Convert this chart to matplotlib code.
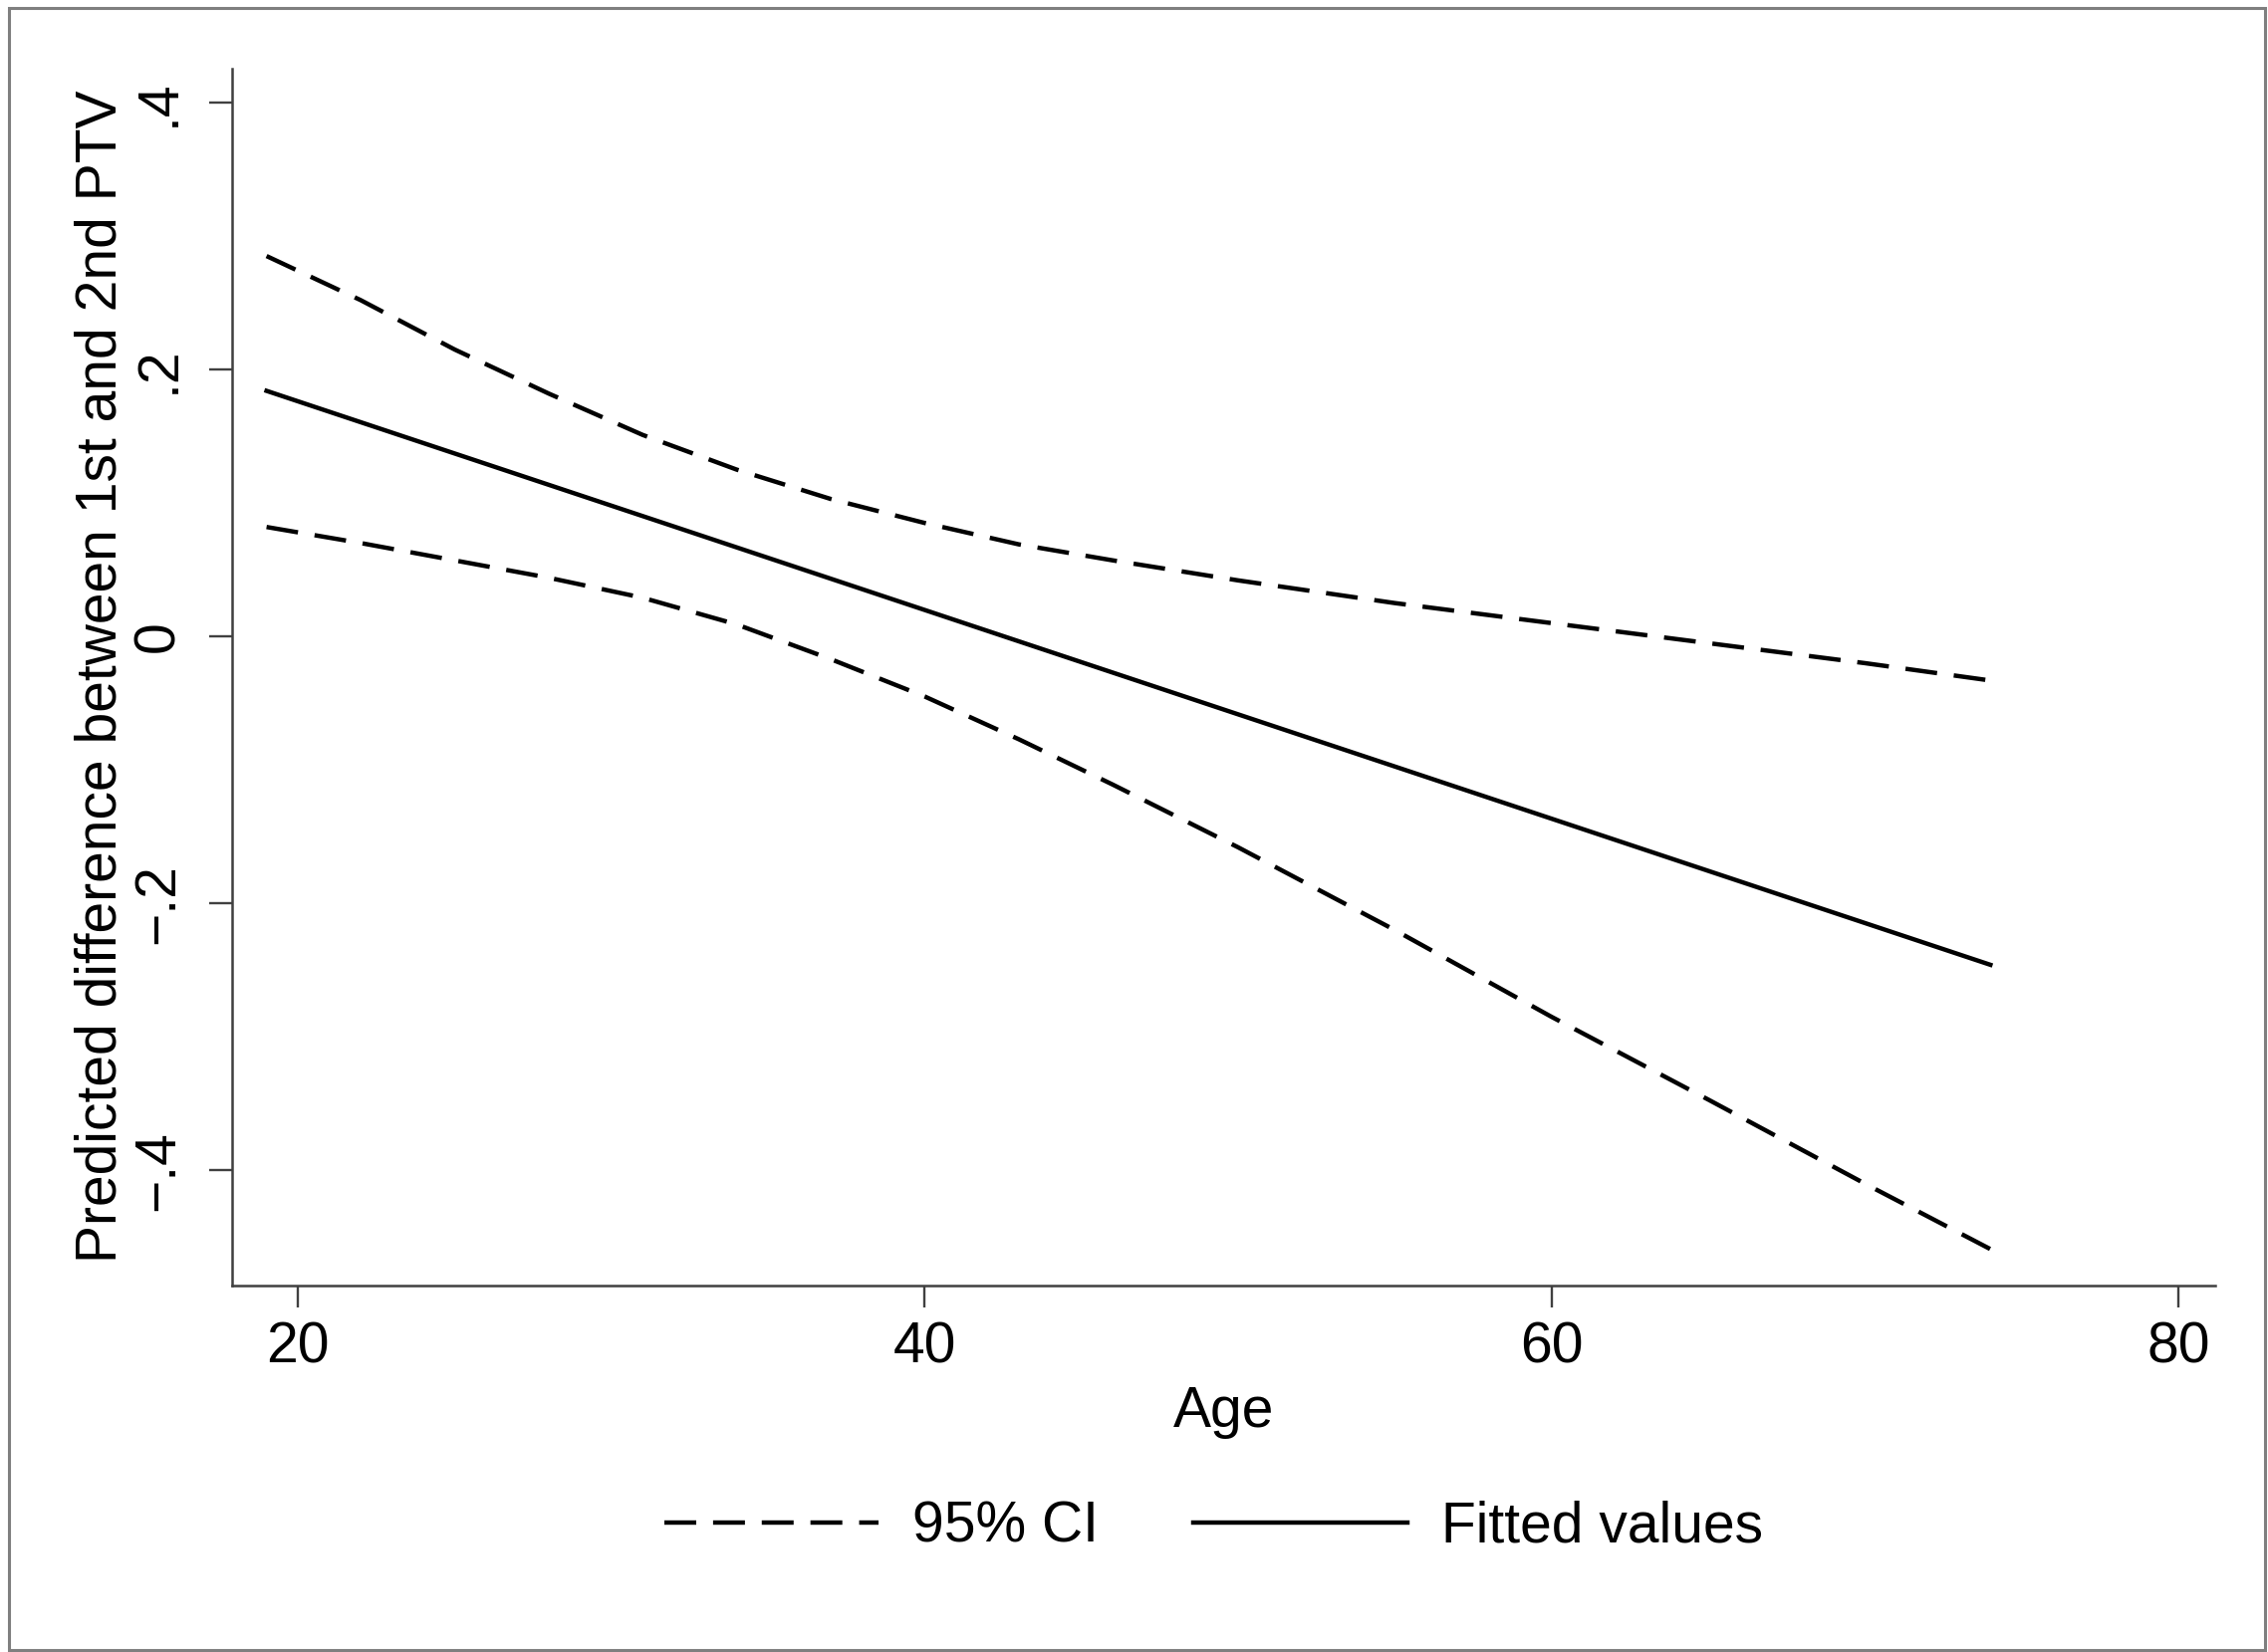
import matplotlib
matplotlib.use("Agg")
import matplotlib.pyplot as plt
from matplotlib.patches import Rectangle

plt.rcParams['font.family'] = ['Liberation Sans', 'DejaVu Sans']

# ---- data ----
ci_age = [19, 22, 25, 28, 31, 34, 37, 40, 43, 46, 50, 55, 60, 65, 70, 74]
ci_upper = [0.285, 0.252, 0.215, 0.182, 0.151, 0.125, 0.103, 0.085, 0.069, 0.057,
            0.042, 0.025, 0.010, -0.005, -0.020, -0.033]
ci_lower = [0.082, 0.070, 0.057, 0.044, 0.029, 0.009, -0.017, -0.045, -0.077, -0.111,
            -0.158, -0.220, -0.285, -0.347, -0.410, -0.459]
fit_age = [19, 74]
fit_vals = [0.184, -0.246]

xticks = [20, 40, 60, 80]
xticklabels = ["20", "40", "60", "80"]
yticks = [-0.4, -0.2, 0, 0.2, 0.4]
yticklabels = ["\u2212.4", "\u2212.2", "0", ".2", ".4"]

W, H = 2277, 1659
fig = plt.figure(figsize=(W / 100, H / 100), dpi=100)
fig.patch.set_facecolor('white')

left, right, top, bottom = 233, 2223.6, 68.8, 1290.6
ax = fig.add_axes([left / W, 1 - bottom / H, (right - left) / W, (bottom - top) / H])

FS = 41
lw = 3.2
dash = (7.2, 3.8)

l1, = ax.plot(ci_age, ci_upper, color='black', lw=lw, label='95% CI')
l1.set_dashes(dash)
l2, = ax.plot(ci_age, ci_lower, color='black', lw=lw)
l2.set_dashes(dash)
ax.plot(fit_age, fit_vals, color='black', lw=lw, label='Fitted values')

ax.set_xlim(17.9, 81.16)
ax.set_ylim(-0.486, 0.4255)

for s in ['top', 'right']:
    ax.spines[s].set_visible(False)
for s in ['left', 'bottom']:
    ax.spines[s].set_linewidth(1.8)
    ax.spines[s].set_color('#404040')

ax.set_xticks(xticks)
ax.set_xticklabels(xticklabels, fontsize=FS)
ax.set_yticks(yticks)
ax.set_yticklabels(yticklabels, fontsize=FS, rotation=90, va='center')
ax.tick_params(axis='x', length=16, width=1.7, pad=9.5, color='#404040')
ax.tick_params(axis='y', length=16.5, width=1.7, pad=17, color='#404040')

ax.set_xlabel('Age', fontsize=FS, va='top')
ax.xaxis.set_label_coords(0.5, -0.082)
ax.set_ylabel('Predicted difference between 1st and 2nd PTV', fontsize=FS)
ax.yaxis.set_label_coords(-0.0525, 0.5)

ax.legend(loc='center', bbox_to_anchor=(0.495, -0.199), ncol=2, frameon=False,
          fontsize=FS, handlelength=3.77, handletextpad=0.6, columnspacing=1.67)

# outer frame
fig.patches.append(Rectangle((9 / W, 1 - 1657 / H), (2274 - 9) / W, (1657 - 8) / H,
                             transform=fig.transFigure, fill=False,
                             edgecolor='#7f7f7f', lw=2.2))

fig.savefig('out.png', dpi=100, facecolor='white')
